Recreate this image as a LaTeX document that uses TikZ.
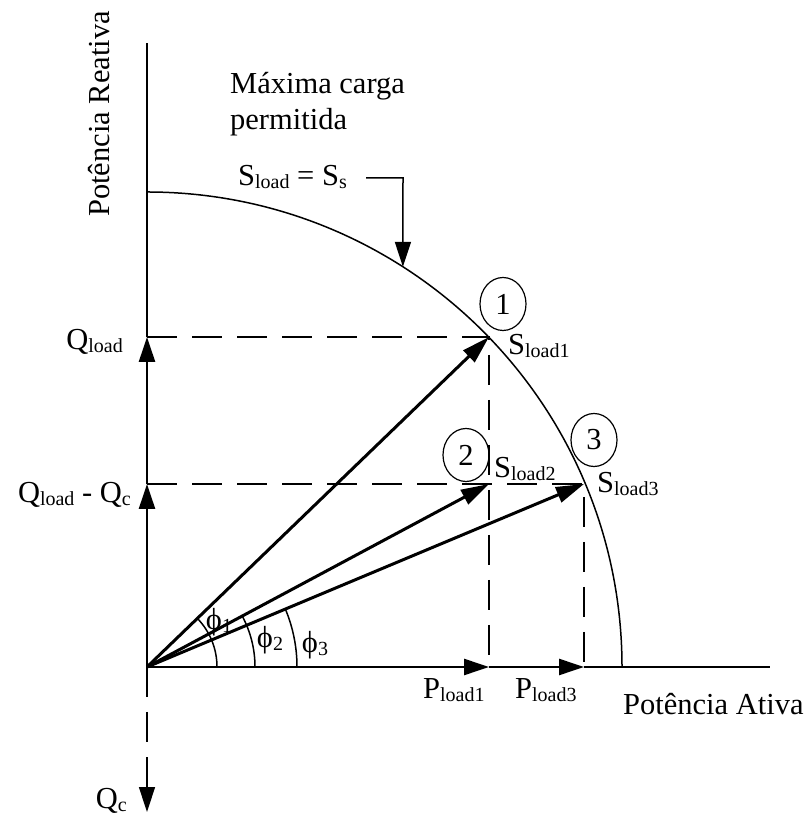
\documentclass[tikz,border=0pt]{standalone}
\usepackage{fontspec}
\setmainfont{Liberation Serif}
\usetikzlibrary{arrows.meta}
\usetikzlibrary{shapes.geometric}
\newcommand{\sbs}[1]{\raisebox{-3pt}{\fontsize{20}{20}\selectfont #1}}
\tikzset{
    x=1pt, y=1pt,
    every node/.append style={
        font=\fontsize{30.5}{36}\selectfont,
        inner sep=0pt
    },
    axis/.style={
        line width=2.5pt
    },
    guide/.style={
        line width=1.5pt,
        dash pattern=on 30pt off 15pt
    },
    phasor/.style={
        line width=3pt,
        -{Triangle[length=28pt,width=16pt]}
    },
    tip/.style={
        -{Triangle[length=25pt,width=16pt]}
    },
    numbered/.style={
        ellipse, draw, line width=1.2pt,
        minimum width=46pt, minimum height=53pt
    }
}
\begin{document}
\begin{tikzpicture}
    \useasboundingbox (-147,-151) rectangle (661,667);
    \coordinate (o) at (0,0);
    \coordinate (ytop) at (0,624);
    \coordinate (xend) at (623,0);
    \coordinate (qc) at (0,-145);
    \coordinate (ql) at (0,330);
    \coordinate (qlc) at (0,183);
    \coordinate (pl1) at (342,0);
    \coordinate (pl3) at (437,0);
    \coordinate (s1) at (342,330);
    \coordinate (s2) at (342,183);
    \coordinate (s3) at (437,183);
    \coordinate (ptr) at (57.4:475);
    \coordinate (bend) at (256,489);
    \coordinate (ptrstart) at (219,489);

    \draw[line width=1.5pt] (475,0) arc[start angle=0, end angle=90, radius=475];

    \draw[guide] (ql) -- (s1) -- (pl1);
    \draw[guide] (qlc) -- (s3) -- (pl3);
    \draw[guide, tip] (o) -- (qc);

    \draw[axis, tip] (o) -- (qlc);
    \draw[axis, tip] (qlc) -- (ql);
    \draw[axis] (ql) -- (ytop);
    \draw[axis, tip] (o) -- (pl1);
    \draw[axis, tip] (pl1) -- (pl3);
    \draw[axis] (pl3) -- (xend);

    \draw[phasor] (o) -- (s1);
    \draw[phasor] (o) -- (s2);
    \draw[phasor] (o) -- (s3);

    \draw[line width=1.5pt] (70,0) arc[start angle=0, end angle=44, radius=70];
    \draw[line width=1.5pt] (108,0) arc[start angle=0, end angle=28.2, radius=108];
    \draw[line width=1.5pt] (150,0) arc[start angle=0, end angle=22.7, radius=150];

    \draw[line width=1.5pt, tip] (ptrstart) -- (bend) -- (ptr);

    \node[anchor=base west, rotate=90] (ylabel) at (-37,450) {Potência Reativa};
    \node[anchor=base west] (xlabel) at (476,-48) {Potência Ativa};
    \node[anchor=base west] (maxa) at (83,573) {Máxima carga};
    \node[anchor=base west] (maxb) at (83,537) {permitida};
    \node[anchor=base west] (slimit) at (91,481) {S\sbs{load} = S\sbs{s}};

    \node[anchor=base east] (qlabel) at (-24,317) {Q\sbs{load}};
    \node[anchor=base east] (qclabel) at (-16,164) {Q\sbs{load} - Q\sbs{c}};
    \node[anchor=base east] (qcneg) at (-20,-141) {Q\sbs{c}};
    \node[anchor=base west] (p1label) at (276,-31) {P\sbs{load1}};
    \node[anchor=base west] (p3label) at (368,-31) {P\sbs{load3}};

    \node[anchor=base west] (s1label) at (361,312) {S\sbs{load1}};
    \node[anchor=base west] (s2label) at (347,189) {S\sbs{load2}};
    \node[anchor=base west] (s3label) at (450,174) {S\sbs{load3}};
    \node[numbered] (n1) at (356,363) {1};
    \node[numbered] (n2) at (319,212) {2};
    \node[numbered] (n3) at (447,227) {3};

    \node (phi1) at (72,45) {ϕ\sbs{1}};
    \node (phi2) at (123,27) {ϕ\sbs{2}};
    \node (phi3) at (168,22) {ϕ\sbs{3}};
\end{tikzpicture}
\end{document}
